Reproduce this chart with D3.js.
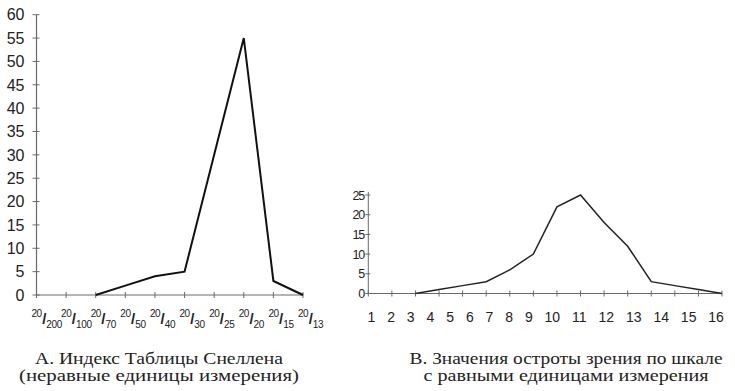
<!DOCTYPE html>
<html><head><meta charset="utf-8">
<script src="https://cdn.jsdelivr.net/npm/d3@7"></script>
<style>
html,body{margin:0;padding:0;background:#fff;}
svg{display:block;}
</style></head>
<body>
<svg id="c" width="735" height="391"></svg>
<script>
// ---- Data ----
const snellenCats = ["20/200","20/100","20/70","20/50","20/40","20/30","20/25","20/20","20/15","20/13"];
const snellenVals = [null, null, 0, 2, 4, 5, 30, 55, 3, 0];
const yTicksA = [0,5,10,15,20,25,30,35,40,45,50,55,60];

const scaleCats = [1,2,3,4,5,6,7,8,9,10,11,12,13,14,15,16];
const scaleVals = [null, null, 0, 1, 2, 3, 6, 10, 22, 25, 18, 12, 3, 2, 1, 0];
const yTicksB = [0,5,10,15,20,25];

const captionA = ["А. Индекс Таблицы Снеллена", "(неравные единицы измерения)"];
const captionB = ["В. Значения остроты зрения по шкале", "с равными единицами измерения"];

const svg = d3.select("#c");
const axisCol = "#6a6a6a";

// ---- Chart A ----
const xA = d3.scalePoint().domain(snellenCats).range([36.5, 303]);
const yA = d3.scaleLinear().domain([0, 60]).range([295, 14.7]);

const gA = svg.append("g");
gA.append("line").attr("x1", xA(snellenCats[0])).attr("x2", xA(snellenCats[0]))
  .attr("y1", yA(0)).attr("y2", yA(60)).attr("stroke", axisCol).attr("stroke-width", 1.2);
gA.append("line").attr("x1", xA(snellenCats[0])).attr("x2", xA(snellenCats[snellenCats.length-1]))
  .attr("y1", yA(0)).attr("y2", yA(0)).attr("stroke", axisCol).attr("stroke-width", 1.2);
gA.selectAll(".yt").data(yTicksA).enter().append("line")
  .attr("x1", xA(snellenCats[0]) - 4).attr("x2", xA(snellenCats[0]) + 3)
  .attr("y1", d => yA(d)).attr("y2", d => yA(d)).attr("stroke", axisCol).attr("stroke-width", 1);
gA.selectAll(".yl").data(yTicksA).enter().append("text")
  .attr("x", xA(snellenCats[0]) - 12).attr("y", d => yA(d)).attr("dy", "0.36em")
  .attr("text-anchor", "end").attr("font-family", "Liberation Sans, Arial, sans-serif")
  .attr("font-size", 16).attr("fill", "#222").text(d => d);
gA.selectAll(".xt").data(snellenCats).enter().append("line")
  .attr("x1", d => xA(d)).attr("x2", d => xA(d))
  .attr("y1", yA(0) - 3).attr("y2", yA(0) + 3).attr("stroke", axisCol).attr("stroke-width", 1);
const xl = gA.selectAll(".xl").data(snellenCats).enter().append("text")
  .attr("font-family", "Liberation Sans, Arial, sans-serif").attr("fill", "#222");
xl.each(function(d){
  const [num, den] = d.split("/");
  const t = d3.select(this);
  const x0 = xA(d) - 5;
  t.append("tspan").attr("x", x0).attr("y", 317).attr("font-size", 10).attr("letter-spacing", -0.5).text(num);
  t.append("tspan").attr("dx", 0.5).attr("y", 323.5).attr("font-size", 15).attr("font-weight", "bold").text("/");
  t.append("tspan").attr("dx", 0).attr("y", 328).attr("font-size", 10).attr("letter-spacing", -0.3).text(den);
});
const lineA = d3.line().defined(d => d.v !== null).x(d => xA(d.c)).y(d => yA(d.v));
gA.append("path").datum(snellenCats.map((c,i) => ({c, v: snellenVals[i]})))
  .attr("d", lineA).attr("fill", "none").attr("stroke", "#111").attr("stroke-width", 2)
  .attr("stroke-linejoin", "miter");

// ---- Chart B ----
const xB = d3.scaleLinear().domain([1, 16]).range([368.3, 722]);
const yB = d3.scaleLinear().domain([0, 25]).range([293.5, 195]);
const gB = svg.append("g");
gB.append("line").attr("x1", xB(1)).attr("x2", xB(1)).attr("y1", yB(0)).attr("y2", yB(25.8))
  .attr("stroke", axisCol).attr("stroke-width", 1);
gB.append("line").attr("x1", xB(1)).attr("x2", xB(16)).attr("y1", yB(0)).attr("y2", yB(0))
  .attr("stroke", axisCol).attr("stroke-width", 1);
gB.selectAll(".yt").data(yTicksB).enter().append("line")
  .attr("x1", xB(1) - 3).attr("x2", xB(1) + 2)
  .attr("y1", d => yB(d)).attr("y2", d => yB(d)).attr("stroke", axisCol).attr("stroke-width", 1);
gB.selectAll(".yl").data(yTicksB).enter().append("text")
  .attr("x", xB(1) - 4).attr("y", d => yB(d)).attr("dy", "0.36em")
  .attr("text-anchor", "end").attr("font-family", "Liberation Sans Narrow, Liberation Sans, Arial, sans-serif")
  .attr("font-size", 12.5).attr("letter-spacing", -1).attr("fill", "#222").text(d => d);
gB.selectAll(".xt").data(scaleCats).enter().append("line")
  .attr("x1", d => xB(d)).attr("x2", d => xB(d))
  .attr("y1", yB(0) - 3).attr("y2", yB(0) + 3).attr("stroke", axisCol).attr("stroke-width", 1);
gB.append("text").attr("x", 367.5).attr("y", 322)
  .attr("font-family", "Liberation Sans, Arial, sans-serif").attr("font-size", 14)
  .attr("fill", "#222").style("word-spacing", "8px").attr("xml:space", "preserve")
  .text(scaleCats.join(" "));
const lineB = d3.line().defined(d => d.v !== null).x(d => xB(d.c)).y(d => yB(d.v));
gB.append("path").datum(scaleCats.map((c,i) => ({c, v: scaleVals[i]})))
  .attr("d", lineB).attr("fill", "none").attr("stroke", "#222").attr("stroke-width", 1.5);

// ---- Captions ----
const capFont = "Liberation Serif, Times New Roman, serif";
function caption(lines, cx, lens){
  lines.forEach((s, i) => {
    svg.append("text").attr("x", cx).attr("y", 364 + i * 17)
      .attr("text-anchor", "middle").attr("font-family", capFont).attr("font-size", 16)
      .attr("fill", "#222").attr("textLength", lens[i]).attr("lengthAdjust", "spacingAndGlyphs")
      .text(s);
  });
}
caption(captionA, 159, [248, 280]);
caption(captionB, 566, [313, 285]);
</script>
</body></html>
